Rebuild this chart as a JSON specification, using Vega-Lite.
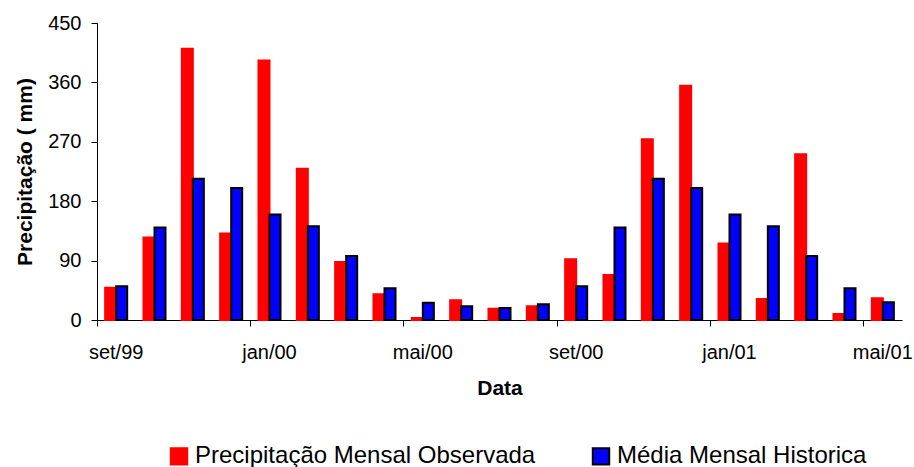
{
  "$schema": "https://vega.github.io/schema/vega-lite/v6.json",
  "width": 805,
  "height": 297,
  "autosize": {"type": "none"},
  "padding": {"left": 97, "top": 23, "right": 12, "bottom": 147},
  "background": "white",
  "config": {
    "view": {"stroke": null},
    "font": "Liberation Sans",
    "text": {"font": "Liberation Sans"},
    "axis": {"labelFont": "Liberation Sans", "titleFont": "Liberation Sans", "domainColor": "#000000", "tickColor": "#000000", "labelColor": "#000000", "titleColor": "#000000", "grid": false, "domainWidth": 1, "tickWidth": 1},
    "legend": {"labelFont": "Liberation Sans"}
  },
  "data": {"values": [
    {"mes": "set/99", "serie": "Precipitação Mensal Observada", "valor": 49},
    {"mes": "out/99", "serie": "Precipitação Mensal Observada", "valor": 125},
    {"mes": "nov/99", "serie": "Precipitação Mensal Observada", "valor": 411},
    {"mes": "dez/99", "serie": "Precipitação Mensal Observada", "valor": 131},
    {"mes": "jan/00", "serie": "Precipitação Mensal Observada", "valor": 393},
    {"mes": "fev/00", "serie": "Precipitação Mensal Observada", "valor": 229},
    {"mes": "mar/00", "serie": "Precipitação Mensal Observada", "valor": 88},
    {"mes": "abr/00", "serie": "Precipitação Mensal Observada", "valor": 39},
    {"mes": "mai/00", "serie": "Precipitação Mensal Observada", "valor": 3},
    {"mes": "jun/00", "serie": "Precipitação Mensal Observada", "valor": 30},
    {"mes": "jul/00", "serie": "Precipitação Mensal Observada", "valor": 17},
    {"mes": "ago/00", "serie": "Precipitação Mensal Observada", "valor": 21},
    {"mes": "set/00", "serie": "Precipitação Mensal Observada", "valor": 92},
    {"mes": "out/00", "serie": "Precipitação Mensal Observada", "valor": 68},
    {"mes": "nov/00", "serie": "Precipitação Mensal Observada", "valor": 274},
    {"mes": "dez/00", "serie": "Precipitação Mensal Observada", "valor": 355},
    {"mes": "jan/01", "serie": "Precipitação Mensal Observada", "valor": 116},
    {"mes": "fev/01", "serie": "Precipitação Mensal Observada", "valor": 32},
    {"mes": "mar/01", "serie": "Precipitação Mensal Observada", "valor": 251},
    {"mes": "abr/01", "serie": "Precipitação Mensal Observada", "valor": 9},
    {"mes": "mai/01", "serie": "Precipitação Mensal Observada", "valor": 33},
    {"mes": "set/99", "serie": "Média Mensal Historica", "valor": 51},
    {"mes": "out/99", "serie": "Média Mensal Historica", "valor": 140},
    {"mes": "nov/99", "serie": "Média Mensal Historica", "valor": 214},
    {"mes": "dez/99", "serie": "Média Mensal Historica", "valor": 200},
    {"mes": "jan/00", "serie": "Média Mensal Historica", "valor": 160},
    {"mes": "fev/00", "serie": "Média Mensal Historica", "valor": 142},
    {"mes": "mar/00", "serie": "Média Mensal Historica", "valor": 97},
    {"mes": "abr/00", "serie": "Média Mensal Historica", "valor": 48},
    {"mes": "mai/00", "serie": "Média Mensal Historica", "valor": 26},
    {"mes": "jun/00", "serie": "Média Mensal Historica", "valor": 21},
    {"mes": "jul/00", "serie": "Média Mensal Historica", "valor": 18},
    {"mes": "ago/00", "serie": "Média Mensal Historica", "valor": 24},
    {"mes": "set/00", "serie": "Média Mensal Historica", "valor": 51},
    {"mes": "out/00", "serie": "Média Mensal Historica", "valor": 140},
    {"mes": "nov/00", "serie": "Média Mensal Historica", "valor": 214},
    {"mes": "dez/00", "serie": "Média Mensal Historica", "valor": 200},
    {"mes": "jan/01", "serie": "Média Mensal Historica", "valor": 160},
    {"mes": "fev/01", "serie": "Média Mensal Historica", "valor": 142},
    {"mes": "mar/01", "serie": "Média Mensal Historica", "valor": 97},
    {"mes": "abr/01", "serie": "Média Mensal Historica", "valor": 48},
    {"mes": "mai/01", "serie": "Média Mensal Historica", "valor": 27}
  ]},
  "mark": {"type": "bar", "strokeWidth": 2},
  "encoding": {
    "x": {
      "field": "mes", "type": "ordinal", "sort": null,
      "scale": {"paddingInner": 0, "paddingOuter": 0},
      "axis": {
        "title": "Data", "titleFontSize": 21, "titleFontWeight": "bold", "titlePadding": 15,
        "values": ["set/99", "jan/00", "mai/00", "set/00", "jan/01", "mai/01"],
        "bandPosition": 0, "labelAngle": 0, "labelFontSize": 20,
        "tickSize": 6, "labelPadding": 16
      }
    },
    "xOffset": {
      "field": "serie", "type": "nominal",
      "sort": ["Precipitação Mensal Observada", "Média Mensal Historica"],
      "scale": {"paddingInner": 0, "paddingOuter": 0.74}
    },
    "y": {
      "field": "valor", "type": "quantitative",
      "scale": {"domain": [0, 450], "nice": false},
      "axis": {
        "title": "Precipitação ( mm)", "titleFontSize": 21, "titleFontWeight": "bold", "titlePadding": 12,
        "values": [0, 90, 180, 270, 360, 450], "labelFontSize": 20, "tickSize": 6, "labelPadding": 10
      }
    },
    "fill": {
      "field": "serie", "type": "nominal",
      "scale": {"domain": ["Precipitação Mensal Observada", "Média Mensal Historica"], "range": ["#FF0000", "#0000FF"]},
      "legend": {
        "title": null, "orient": "none", "legendX": 70, "legendY": 421, "direction": "horizontal",
        "symbolType": "square", "symbolSize": 270, "symbolStrokeWidth": 2,
        "labelFontSize": 24, "labelOffset": 4, "columnPadding": 52, "labelColor": "#000000", "labelLimit": 500
      }
    },
    "stroke": {
      "field": "serie", "type": "nominal",
      "scale": {"domain": ["Precipitação Mensal Observada", "Média Mensal Historica"], "range": ["#FF0000", "#000000"]},
      "legend": {
        "title": null, "orient": "none", "legendX": 70, "legendY": 421, "direction": "horizontal",
        "symbolType": "square", "symbolSize": 270, "symbolStrokeWidth": 2,
        "labelFontSize": 24, "labelOffset": 4, "columnPadding": 52, "labelColor": "#000000", "labelLimit": 500
      }
    }
  }
}
